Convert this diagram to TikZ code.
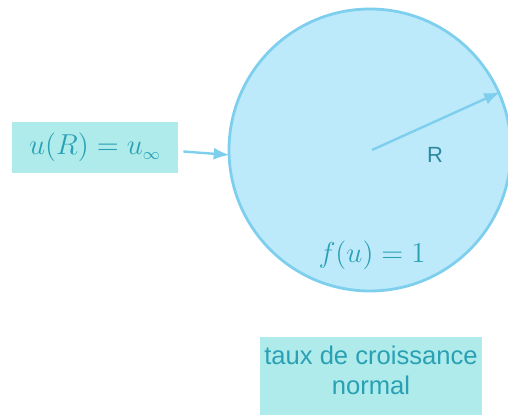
\documentclass[tikz,border=0pt]{standalone}
\usepackage{fontspec}
\newfontfamily\arial{Liberation Sans}
\usetikzlibrary{arrows.meta}
\definecolor{circfill}{HTML}{BDEAFA}
\definecolor{circline}{HTML}{7ECFEE}
\definecolor{boxfill}{HTML}{AEEBEA}
\definecolor{tealtext}{HTML}{2AA0B5}
\definecolor{rtext}{HTML}{2B8A9E}
\tikzset{
  lbl/.style={fill=boxfill, text=tealtext, inner sep=0pt},
  conn/.style={draw=circline, line width=1.2pt, -{Latex[length=8pt,width=6pt]}},
}
\begin{document}
\begin{tikzpicture}[x=0.5pt,y=-0.5pt]
\useasboundingbox (0,0) rectangle (508,415);
\node[circle, fill=circfill, draw=circline, line width=1.4pt, minimum size=141pt, inner sep=0pt] (c) at (370,150) {};
\node[lbl, minimum width=83pt, minimum height=25.5pt] (lb) at (95,147.5) {\fontsize{15.5}{18}\selectfont $u(R)=u_{\scriptscriptstyle\infty}$};
\fill[boxfill] (260,337) rectangle (482,415);
\node[text=tealtext, align=center, inner sep=0pt, font=\arial\fontsize{12.8}{15}\selectfont] (nb) at (371,370) {taux de croissance\\normal};
\node[text=rtext, inner sep=0pt, font=\arial\fontsize{11}{13}\selectfont] (rl) at (435,155) {R};
\node[text=tealtext, inner sep=0pt] (fl) at (372,255) {\fontsize{15}{18}\selectfont $f(u)=1$};
\coordinate (cc) at (372,150);
\draw[conn] (cc) -- (c.24);
\draw[conn] ([xshift=2.5pt,yshift=-2pt]lb.east) -- ([xshift=1pt]c.182);
\end{tikzpicture}
\end{document}
